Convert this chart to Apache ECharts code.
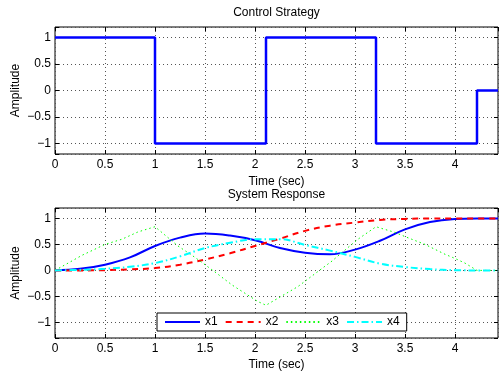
<!DOCTYPE html>
<html>
<head>
<meta charset="utf-8">
<script src="https://cdn.jsdelivr.net/npm/echarts@6/dist/echarts.min.js"></script>
<style>
html,body{margin:0;padding:0;background:#fff;}
#chart{width:499px;height:371px;}
</style>
</head>
<body>
<div id="chart"></div>
<script>
// ---- data ----
const controlTime  = [0, 1, 2.11, 3.21, 4.22, 4.43];
const controlValue = [1, -1, 1, -1, 0, 0];

const responseTime = [0, 0.25, 0.5, 0.75, 1, 1.25, 1.5, 1.75, 2, 2.25, 2.5, 2.75, 3, 3.25, 3.5, 3.75, 4, 4.22, 4.43];
const x1Values = [0, 0.03, 0.11, 0.25, 0.47, 0.63, 0.71, 0.67, 0.58, 0.43, 0.34, 0.31, 0.40, 0.57, 0.79, 0.93, 0.99, 1, 1];
const x2Values = [0, 0, 0.005, 0.02, 0.045, 0.11, 0.21, 0.33, 0.47, 0.61, 0.76, 0.86, 0.92, 0.97, 0.99, 1, 1, 1, 1];
const x4Values = [0, 0.01, 0.03, 0.07, 0.14, 0.27, 0.43, 0.53, 0.6, 0.6, 0.49, 0.38, 0.26, 0.13, 0.065, 0.025, 0.005, 0, 0];

const x3Time   = [0, 0.27, 0.5, 0.67, 0.83, 1, 1.23, 1.4, 1.6, 1.77, 1.9, 2.03, 2.11, 2.43, 2.63, 2.77, 2.93, 3.03, 3.21, 3.4, 3.5, 3.7, 3.9, 4.0, 4.1, 4.22, 4.43];
const x3Values = [0, 0.29, 0.5, 0.6, 0.74, 0.84, 0.47, 0.25, -0.03, -0.28, -0.44, -0.6, -0.67, -0.31, -0.02, 0.18, 0.44, 0.6, 0.84, 0.73, 0.65, 0.5, 0.31, 0.23, 0.14, 0, 0];

const xTicks = [0, 0.5, 1, 1.5, 2, 2.5, 3, 3.5, 4];
const yTicks = [-1, -0.5, 0, 0.5, 1];
const legendNames = ['x1', 'x2', 'x3', 'x4'];
const titles = ['Control Strategy', 'System Response'];
const xLabel = 'Time (sec)';
const yLabel = 'Amplitude';

// ---- chart ----
const FONT = '"Liberation Sans", Arial, Helvetica, sans-serif';
const pair = (t, v) => t.map((x, i) => [x, v[i]]);
const fmtNum = v => String(v).replace('-', '\u2212');
const yFmt = v => yTicks.some(t => Math.abs(t - v) < 1e-6) ? fmtNum(v) : '';
const xFmt = v => xTicks.some(t => Math.abs(t - v) < 1e-6) ? fmtNum(v) : '';

const gridLine = { show: true, lineStyle: { color: '#555', type: [1, 3], width: 1 } };
const tick = { show: true, inside: true, length: 4, lineStyle: { color: '#000', width: 1 } };

function xAxes(gi, nameGap) {
  return [
    { type: 'value', gridIndex: gi, min: 0, max: 4.43, interval: 0.5, position: 'bottom',
      axisLine: { show: false, onZero: false }, axisTick: tick, splitLine: gridLine,
      axisLabel: { formatter: xFmt, fontSize: 12, color: '#000', fontFamily: FONT, margin: 5, showMaxLabel: false },
      name: xLabel, nameLocation: 'middle', nameGap: nameGap, nameMoveOverlap: false,
      nameTextStyle: { fontSize: 12, color: '#000', fontFamily: FONT } },
    { type: 'value', gridIndex: gi, min: 0, max: 4.43, interval: 0.5, position: 'top',
      axisLine: { show: false, onZero: false }, axisTick: tick, splitLine: { show: false },
      axisLabel: { show: false } }
  ];
}
function yAxes(gi, mn, mx) {
  return [
    { type: 'value', gridIndex: gi, min: mn, max: mx, splitNumber: 5, position: 'left',
      axisLine: { show: false, onZero: false }, axisTick: tick, splitLine: gridLine,
      axisLabel: { formatter: yFmt, fontSize: 12, color: '#000', fontFamily: FONT, margin: 4 },
      name: yLabel, nameLocation: 'middle', nameGap: 33, nameMoveOverlap: false,
      nameTextStyle: { fontSize: 12, color: '#000', fontFamily: FONT } },
    { type: 'value', gridIndex: gi, min: mn, max: mx, splitNumber: 5, position: 'right',
      axisLine: { show: false, onZero: false }, axisTick: tick, splitLine: { show: false },
      axisLabel: { show: false } }
  ];
}

const chart = echarts.init(document.getElementById('chart'), null, { renderer: 'canvas' });
chart.setOption({
  animation: false,
  backgroundColor: '#fff',
  textStyle: { fontFamily: FONT },
  grid: [
    { left: 55, top: 27, width: 443, height: 127, outerBoundsMode: 'none', containLabel: false,
      show: true, borderColor: '#000', borderWidth: 1, backgroundColor: '#fff' },
    { left: 55, top: 208, width: 443, height: 130, outerBoundsMode: 'none', containLabel: false,
      show: true, borderColor: '#000', borderWidth: 1, backgroundColor: '#fff' }
  ],
  xAxis: [...xAxes(0, 22), ...xAxes(1, 21)],
  yAxis: [...yAxes(0, -1.2, 1.2), ...yAxes(1, -1.3, 1.2)],
  graphic: [
    { type: 'text', x: 276.5, y: 13, style: { text: titles[0], font: '12px ' + FONT, fill: '#000', textAlign: 'center', textVerticalAlign: 'middle' } },
    { type: 'text', x: 276.5, y: 195, style: { text: titles[1], font: '12px ' + FONT, fill: '#000', textAlign: 'center', textVerticalAlign: 'middle' } }
  ],
  legend: {
    data: legendNames, left: 157, top: 313, padding: [3, 7, 3, 7], itemGap: 7,
    itemWidth: 35, itemHeight: 13, selectedMode: false,
    itemStyle: { opacity: 0 },
    borderColor: '#000', borderWidth: 1, backgroundColor: '#fff',
    textStyle: { fontSize: 12, color: '#000', fontFamily: FONT }
  },
  series: [
    { type: 'line', xAxisIndex: 0, yAxisIndex: 0, step: 'end', symbol: 'none',
      data: pair(controlTime, controlValue), lineStyle: { color: '#0000ff', width: 2.5 } },
    { name: 'x1', type: 'line', xAxisIndex: 2, yAxisIndex: 2, symbol: 'none', smooth: 0.4,
      data: pair(responseTime, x1Values), itemStyle: { color: '#0000ff' }, lineStyle: { color: '#0000ff', width: 2 } },
    { name: 'x2', type: 'line', xAxisIndex: 2, yAxisIndex: 2, symbol: 'none', smooth: 0.4,
      data: pair(responseTime, x2Values), itemStyle: { color: '#ff0000' }, lineStyle: { color: '#ff0000', width: 2, type: [6, 5] } },
    { name: 'x3', type: 'line', xAxisIndex: 2, yAxisIndex: 2, symbol: 'none',
      data: pair(x3Time, x3Values), itemStyle: { color: '#00ff00' }, lineStyle: { color: '#00ff00', width: 1, type: [1.5, 3] } },
    { name: 'x4', type: 'line', xAxisIndex: 2, yAxisIndex: 2, symbol: 'none', smooth: 0.4,
      data: pair(responseTime, x4Values), itemStyle: { color: '#00ffff' }, lineStyle: { color: '#00ffff', width: 2, type: [7, 3, 1.5, 3] } }
  ]
});
</script>
</body>
</html>
